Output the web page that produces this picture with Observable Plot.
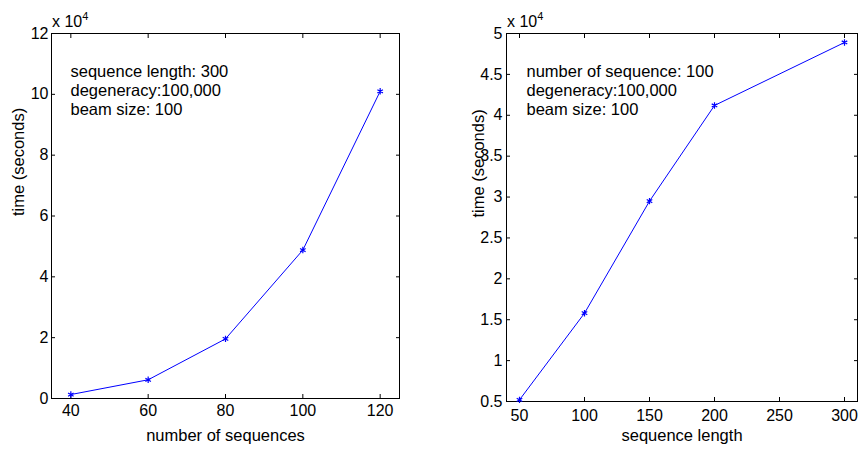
<!DOCTYPE html>
<html><head><meta charset="utf-8">
<script src="https://cdn.jsdelivr.net/npm/d3@7"></script>
<script src="https://cdn.jsdelivr.net/npm/@observablehq/plot@0.6"></script>
<style>
body{margin:0;background:#fff;font-family:"Liberation Sans",Arial,sans-serif;}
#wrap{position:relative;width:861px;height:452px;overflow:hidden;}
.panel{position:absolute;top:0;}
.exp{position:absolute;font-size:16px;line-height:16px;white-space:nowrap;}
.exp sup{font-size:11px;line-height:0;position:relative;top:-1px;}
</style></head><body>
<div id="wrap">
  <div class="panel" id="p1" style="left:0px"></div>
  <div class="panel" id="p2" style="left:440px"></div>
  <div class="exp" style="left:52px;top:14px">x 10<sup>4</sup></div>
  <div class="exp" style="left:507px;top:14px">x 10<sup>4</sup></div>
</div>
<script>
// Left panel: time vs number of sequences
const numSeqs = [40, 60, 80, 100, 120];
const timeByNumSeqs = [1300, 6150, 19600, 48800, 101000];
const leftXTicks = [40, 60, 80, 100, 120];
const leftYTicks = [0, 20000, 40000, 60000, 80000, 100000, 120000];
const leftNotes = ["sequence length: 300", "degeneracy:100,000", "beam size: 100"];

// Right panel: time vs sequence length
const seqLengths = [50, 100, 150, 200, 300];
const timeBySeqLength = [5200, 15800, 29500, 41200, 48900];
const rightXTicks = [50, 100, 150, 200, 250, 300];
const rightYTicks = [5000, 10000, 15000, 20000, 25000, 30000, 35000, 40000, 45000, 50000];
const rightNotes = ["number of sequence: 100", "degeneracy:100,000", "beam size: 100"];

const xLabels = ["number of sequences", "sequence length"];
const yLabel = "time (seconds)";

function panel(o) {
  const data = o.xs.map((x, i) => ({x, y: o.ys[i]}));
  const fmtY = d => String(d / 1e4);
  return Plot.plot({
    width: o.width, height: 452,
    marginLeft: o.ml, marginRight: o.mr, marginTop: 33, marginBottom: o.mb,
    style: {fontFamily: '"Liberation Sans", Arial, sans-serif', fontSize: "16px", color: "black", background: "white", overflow: "visible"},
    x: {domain: o.xDomain},
    y: {domain: o.yDomain},
    marks: [
      Plot.frame({stroke: "black", strokeWidth: 1}),
      Plot.axisX(o.xTicks, {anchor: "bottom", tickSize: -4, tickFormat: () => "", label: null}),
      Plot.axisX(o.xTicks, {anchor: "top", tickSize: -4, tickFormat: () => "", label: null}),
      Plot.axisY(o.yTicks, {anchor: "left", tickSize: -4, tickFormat: () => "", label: null}),
      Plot.axisY(o.yTicks, {anchor: "right", tickSize: -4, tickFormat: () => "", label: null}),
      Plot.axisX(o.xTicks, {anchor: "bottom", tickSize: 0, tickPadding: o.xPad, fontSize: 16, label: null}),
      Plot.axisY(o.yTicks, {anchor: "left", tickSize: 0, tickPadding: o.yPad, fontSize: 16, tickFormat: fmtY, label: null}),
      Plot.text([o.xLabel], {frameAnchor: "bottom", dy: o.xLabelDy, fontSize: 16.5, fill: "black"}),
      Plot.text([yLabel], {frameAnchor: "left", dx: o.yLabelDx, rotate: -90, fontSize: 16.5, fill: "black"}),
      Plot.line(data, {x: "x", y: "y", stroke: "#0000ff", strokeWidth: 1}),
      Plot.dot(data, {x: "x", y: "y", symbol: "asterisk", r: 3, stroke: "#0000ff", strokeWidth: 1.2}),
      Plot.text([o.notes.join("\n")], {frameAnchor: "top-left", dx: o.noteDx, dy: 56, lineAnchor: "middle", lineHeight: 1.15, fontSize: 16.5, textAnchor: "start", fill: "black"})
    ]
  });
}

document.getElementById("p1").append(panel({
  xs: numSeqs, ys: timeByNumSeqs, xDomain: [35, 125], yDomain: [0, 120000],
  xTicks: leftXTicks, yTicks: leftYTicks, xLabel: xLabels[0], notes: leftNotes,
  width: 430, ml: 51, mr: 31, mb: 54, xPad: 6, yPad: 3, xLabelDy: 42, yLabelDx: -33, noteDx: 19
}));
document.getElementById("p2").append(panel({
  xs: seqLengths, ys: timeBySeqLength, xDomain: [40, 310], yDomain: [5000, 50000],
  xTicks: rightXTicks, yTicks: rightYTicks, xLabel: xLabels[1], notes: rightNotes,
  width: 421, ml: 66, mr: 4, mb: 51, xPad: 8, yPad: 4, xLabelDy: 39, yLabelDx: -28, noteDx: 20
}));
</script>
</body></html>
